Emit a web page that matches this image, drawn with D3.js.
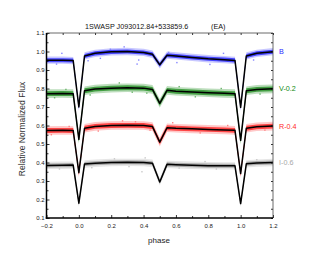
<!DOCTYPE html>
<html>
<head>
<meta charset="utf-8">
<script src="https://cdn.jsdelivr.net/npm/d3@7"></script>
<style>
  body { margin: 0; background: #fff; }
  svg { display: block; font-family: "Liberation Sans", Arial, sans-serif; }
</style>
</head>
<body>
<svg id="chart" width="316" height="264"></svg>
<script>
// model light curve nodes (phase) and normalized flux for each band
const phases = [-0.2, -0.1, -0.035, 0, 0.035, 0.1, 0.2, 0.3, 0.4, 0.455, 0.5, 0.545,
                0.6, 0.7, 0.8, 0.9, 0.965, 1.0, 1.035, 1.1, 1.2];
const fluxB = [0.953, 0.953, 0.951, 0.700, 0.976, 0.990, 0.998, 1.000, 0.995, 0.985, 0.928, 0.980,
               0.976, 0.968, 0.961, 0.956, 0.952, 0.698, 0.976, 0.990, 0.999];
const fluxV = [0.772, 0.773, 0.772, 0.525, 0.788, 0.797, 0.802, 0.804, 0.802, 0.795, 0.720, 0.790,
               0.785, 0.781, 0.777, 0.774, 0.772, 0.520, 0.788, 0.795, 0.798];
const fluxR = [0.573, 0.574, 0.573, 0.345, 0.585, 0.595, 0.600, 0.601, 0.600, 0.594, 0.510, 0.588,
               0.585, 0.582, 0.579, 0.576, 0.574, 0.340, 0.585, 0.593, 0.597];
const fluxI = [0.384, 0.385, 0.386, 0.180, 0.392, 0.396, 0.400, 0.401, 0.400, 0.396, 0.295, 0.390,
               0.388, 0.385, 0.383, 0.382, 0.382, 0.178, 0.393, 0.397, 0.400];

// typical scatter (half width) of the observations around the model
const spread = [0.011, 0.013, 0.013, 0.011];

// stray observations lying off the main band [phase, flux]
const strayB = [[-0.105, 0.99], [-0.138, 0.932], [0.057, 0.95], [0.133, 0.963], [0.195, 1.012],
                [0.36, 0.932], [0.37, 0.954], [0.606, 0.94], [0.555, 0.995], [0.894, 0.99],
                [0.81, 0.93], [1.08, 0.954], [0.28, 1.025]];
const strayV = [[-0.15, 0.75], [-0.08, 0.795], [0.07, 0.765], [0.25, 0.83], [0.42, 0.775],
                [0.62, 0.81], [0.72, 0.755], [0.88, 0.80], [1.12, 0.77], [0.33, 0.78]];
const strayR = [[-0.17, 0.55], [-0.06, 0.595], [0.12, 0.57], [0.27, 0.625], [0.44, 0.575],
                [0.58, 0.615], [0.75, 0.56], [0.92, 0.60], [1.15, 0.575], [0.35, 0.62]];
const strayI = [[-0.12, 0.365], [0.08, 0.372], [0.22, 0.42], [0.31, 0.378], [0.41, 0.425],
                [0.62, 0.37], [0.78, 0.405], [0.85, 0.365], [1.1, 0.415], [0.39, 0.35]];

const bandNames = ["B", "V-0.2", "R-0.4", "I-0.6"];
const bandFlux = [fluxB, fluxV, fluxR, fluxI];
const bandStray = [strayB, strayV, strayR, strayI];
const coreColor = ["#1a1aff", "#1a8a1a", "#ff1a1a", "#959595"];
const haloColor = ["#8585ff", "#6ab46a", "#ff8585", "#c8c8c8"];
const labelColor = ["#2a2aff", "#108a10", "#ff2a2a", "#a8a8a8"];

const titleMain = "1SWASP J093012.84+533859.6";
const titleType = "(EA)";
const xTicks = [-0.2, 0.0, 0.2, 0.4, 0.6, 0.8, 1.0, 1.2];
const yTicks = [0.1, 0.2, 0.3, 0.4, 0.5, 0.6, 0.7, 0.8, 0.9, 1.0, 1.1];

const svg = d3.select("#chart");
const L = 46.5, R = 273, T = 33, B = 218;

const x = d3.scaleLinear().domain([-0.2, 1.2]).range([L, R]);
const y = d3.scaleLinear().domain([0.1, 1.1]).range([B, T]);

const plot = svg.append("g");

bandFlux.forEach((flux, i) => {
  let pts = phases.map((p, j) => ({p: p, f: flux[j]}));
  let s = spread[i];

  let halo = d3.area().x(d => x(d.p)).y0(d => y(d.f - s * 1.8)).y1(d => y(d.f + s * 1.8));
  let core = d3.area().x(d => x(d.p)).y0(d => y(d.f - s)).y1(d => y(d.f + s));

  plot.append("path").attr("d", halo(pts))
    .attr("fill", haloColor[i]).attr("opacity", 0.45);
  plot.append("path").attr("d", core(pts))
    .attr("fill", coreColor[i]).attr("opacity", 0.75);

  plot.append("g").selectAll("rect")
    .data(bandStray[i])
    .join("rect")
      .attr("x", d => x(d[0]) - 0.7)
      .attr("y", d => y(d[1]) - 0.7)
      .attr("width", 1.4)
      .attr("height", 1.4)
      .attr("fill", haloColor[i]);
});

// model fits on top
bandFlux.forEach((flux, i) => {
  let line = d3.line().x(d => x(d[0])).y(d => y(d[1]));
  plot.append("path")
    .attr("d", line(phases.map((p, j) => [p, flux[j]])))
    .attr("fill", "none")
    .attr("stroke", "#000")
    .attr("stroke-width", 1.5)
    .attr("stroke-linejoin", "round");

  svg.append("text")
    .attr("x", R + 6)
    .attr("y", y(flux[flux.length - 1]))
    .attr("dy", "0.35em")
    .attr("font-size", 7.2)
    .attr("fill", labelColor[i])
    .text(bandNames[i]);
});

// axes, ticks pointing inward
function styleAxis(g) {
  g.select(".domain").remove();
  g.selectAll("line").attr("stroke", "#000").attr("stroke-width", 0.8);
  g.selectAll("text").attr("font-size", 6).attr("fill", "#222").attr("font-family", null);
}

const yMinor = d3.range(0.15, 1.1, 0.1);
const xMinor = d3.range(-0.1, 1.2, 0.2);
const xAll = d3.range(-0.2, 1.21, 0.1);
const yAll = d3.range(0.1, 1.11, 0.05);

svg.append("g").attr("transform", `translate(${L},0)`)
  .call(d3.axisLeft(y).tickValues(yTicks).tickSize(-3).tickPadding(2).tickFormat(d3.format(".1f")))
  .call(styleAxis);
svg.append("g").attr("transform", `translate(${L},0)`)
  .call(d3.axisLeft(y).tickValues(yMinor).tickSize(-2).tickFormat(""))
  .call(styleAxis);
svg.append("g").attr("transform", `translate(0,${B})`)
  .call(d3.axisBottom(x).tickValues(xTicks).tickSize(-3).tickPadding(6).tickFormat(d3.format(".1f")))
  .call(styleAxis);
svg.append("g").attr("transform", `translate(0,${B})`)
  .call(d3.axisBottom(x).tickValues(xMinor).tickSize(-2).tickFormat(""))
  .call(styleAxis);
svg.append("g").attr("transform", `translate(0,${T})`)
  .call(d3.axisTop(x).tickValues(xAll).tickSize(-2).tickFormat(""))
  .call(styleAxis);
svg.append("g").attr("transform", `translate(${R},0)`)
  .call(d3.axisRight(y).tickValues(yAll).tickSize(-2).tickFormat(""))
  .call(styleAxis);

// frame
svg.append("line").attr("x1", L).attr("x2", R).attr("y1", T).attr("y2", T)
  .attr("stroke", "#444").attr("stroke-width", 0.8);
svg.append("line").attr("x1", R).attr("x2", R).attr("y1", T).attr("y2", B)
  .attr("stroke", "#444").attr("stroke-width", 0.8);
svg.append("line").attr("x1", L).attr("x2", L).attr("y1", T).attr("y2", B + 0.75)
  .attr("stroke", "#000").attr("stroke-width", 1.5);
svg.append("line").attr("x1", L - 0.75).attr("x2", R).attr("y1", B).attr("y2", B)
  .attr("stroke", "#000").attr("stroke-width", 1.5);

// titles
svg.append("text").attr("x", 85).attr("y", 29).attr("font-size", 7.2).attr("fill", "#111")
  .text(titleMain);
svg.append("text").attr("x", 211).attr("y", 29).attr("font-size", 7.2).attr("fill", "#111")
  .text(titleType);

svg.append("text")
  .attr("transform", "translate(22,129) rotate(-90)")
  .attr("text-anchor", "middle")
  .attr("dy", "0.35em")
  .attr("font-size", 8.5)
  .attr("fill", "#333")
  .text("Relative Normalized Flux");

svg.append("text")
  .attr("x", 159)
  .attr("y", 243)
  .attr("text-anchor", "middle")
  .attr("font-size", 8)
  .attr("fill", "#222")
  .text("phase");
</script>
</body>
</html>
